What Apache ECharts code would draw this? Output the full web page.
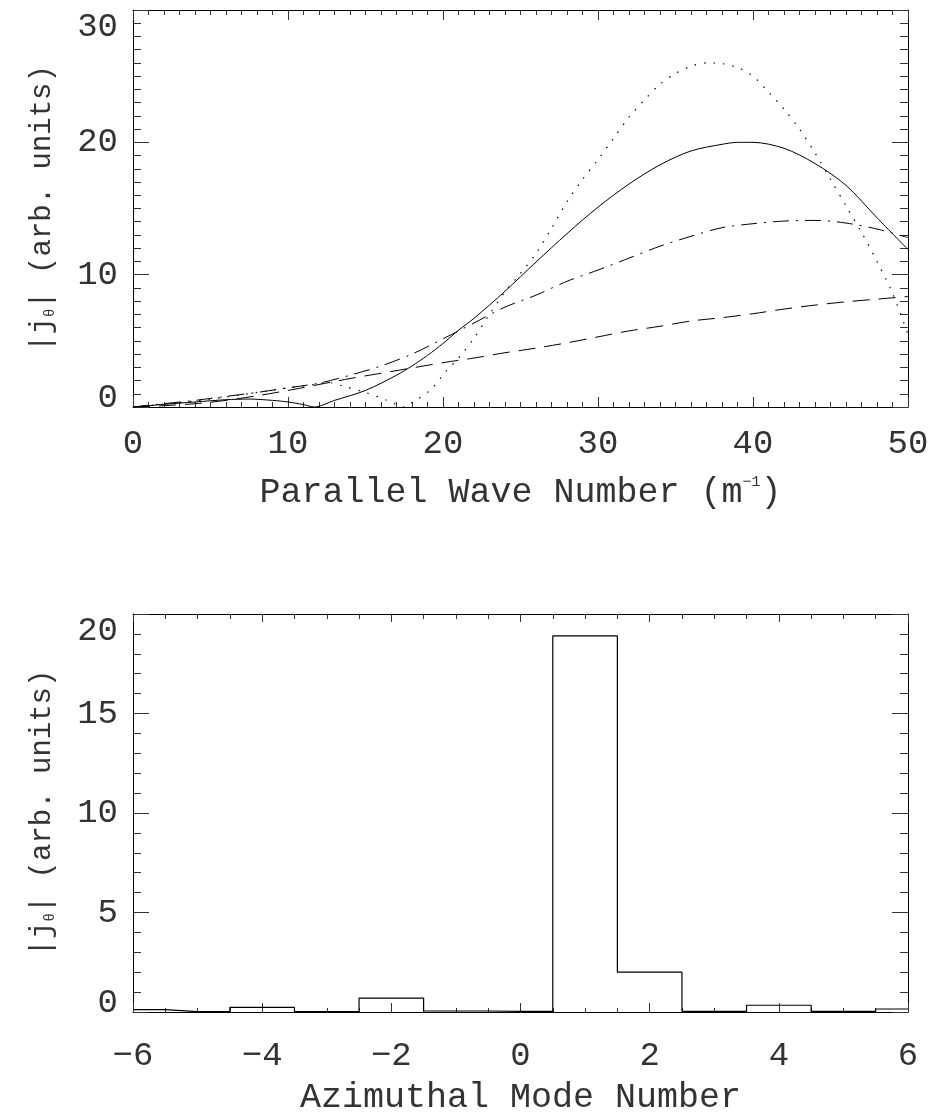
<!DOCTYPE html>
<html><head><meta charset="utf-8">
<script src="https://cdn.jsdelivr.net/npm/echarts@6/dist/echarts.min.js"></script>
<style>html,body{margin:0;padding:0;background:#fff}#c{width:933px;height:1119px}</style>
</head><body><div id="c"></div><script>
// ---- Top panel: |j_theta| vs parallel wave number, four curves ([k, value]) ----
const solidCurve = [[0,0],[2,0.2],[4,0.38],[6,0.55],[7.5,0.6],[9,0.5],[10,0.38],[11,0.18],[11.7,0],[13,0.5],[15,1.25],[17,2.4],[18,3.1],[19,3.9],[20,4.8],[21,5.8],[22,6.7],[24,8.75],[26,10.95],[28,13.1],[30,15.1],[32,16.85],[34,18.3],[36,19.35],[38,19.85],[39,20.0],[40,20.0],[42,19.55],[44,18.4],[46,16.75],[48,14.3],[50,11.9]];
const dottedCurve = [[0,0],[2,0.2],[4,0.45],[6,0.75],[8,1.1],[10,1.45],[12,1.75],[12.6,1.85],[13.5,1.6],[15,1.1],[16.4,0.5],[17.5,0],[18.1,0.4],[19.2,1.3],[20.2,2.7],[21,3.7],[22,5.2],[23,7.0],[24,8.7],[25,10.1],[26,11.6],[27,13.5],[28,15.5],[29,17.2],[30,18.7],[31,20.3],[32,21.9],[33,23.2],[34,24.4],[35,25.2],[36,25.75],[37,26.0],[38,25.95],[39,25.65],[40,25.0],[41,23.8],[42,22.5],[43,21.0],[44,19.2],[45,17.2],[46,15.2],[47,13.2],[48,11.0],[49,8.6],[50,5.5]];
const dashDotCurve = [[0,0],[2,0.25],[4,0.5],[6,0.8],[8,1.1],[10,1.45],[12,1.8],[14,2.4],[16,3.1],[18,4.0],[20,5.15],[22,6.35],[24,7.55],[26,8.45],[28,9.5],[30,10.35],[32,11.25],[34,12.15],[36,12.9],[38,13.55],[40,13.85],[42,14.05],[44,14.1],[46,13.9],[48,13.45],[50,12.8]];
const dashedCurve = [[0,0],[2,0.1],[4,0.25],[6,0.5],[8,0.85],[10,1.25],[12,1.7],[14,2.15],[16,2.55],[18,2.95],[20,3.35],[22,3.7],[24,4.1],[26,4.45],[28,4.85],[30,5.3],[32,5.75],[34,6.1],[36,6.5],[38,6.75],[40,7.05],[42,7.4],[44,7.7],[46,7.95],[48,8.15],[50,8.35]];

// ---- Bottom panel: histogram over azimuthal mode number ----
const modeNumbers = [-6,-5,-4,-3,-2,-1,0,1,2,3,4,5,6];
const modeAmplitude = [0.12,0.02,0.23,0.02,0.7,0.05,0.03,18.9,2.0,0.03,0.34,0.03,0.15];

// ---- Axis texts ----
const topXTitle = ['Parallel Wave Number (m', '\u22121', ')'];
const bottomXTitle = 'Azimuthal Mode Number';
const yTitleParts = ['|j', '\u03b8', '| (arb. units)'];

const FONT = 'Liberation Mono';
const TXT = '#333';
const LINE = '#000';

function mkX(gridIndex, pos, min, max, interval, minorSplit, tickLen, minorLen, withLabels, margin, extra) {
  return Object.assign({
    type: 'value', gridIndex, position: pos, min, max, interval,
    axisLine: { show: true, onZero: false, lineStyle: { color: LINE, width: 1 } },
    axisTick: { show: true, inside: true, length: tickLen, lineStyle: { color: '#333', width: 1 } },
    minorTick: { show: true, splitNumber: minorSplit, length: minorLen, lineStyle: { color: '#333', width: 1 } },
    splitLine: { show: false }, minorSplitLine: { show: false },
    axisLabel: { show: withLabels, margin: margin, fontFamily: FONT, fontSize: 34, color: TXT,
      formatter: v => String(v).replace('-', '\u2212') }
  }, extra || {});
}
function mkY(gridIndex, pos, min, max, interval, minorSplit, withLabels, extra) {
  return Object.assign({
    type: 'value', gridIndex, position: pos, min, max, interval,
    axisLine: { show: true, onZero: false, lineStyle: { color: LINE, width: 1 } },
    axisTick: { show: true, inside: true, length: 16, lineStyle: { color: '#333', width: 1 } },
    minorTick: { show: true, splitNumber: minorSplit, length: 8, lineStyle: { color: '#333', width: 1 } },
    splitLine: { show: false }, minorSplitLine: { show: false },
    axisLabel: { show: withLabels, margin: 15, fontFamily: FONT, fontSize: 34, color: TXT,
      verticalAlignMinLabel: 'bottom', verticalAlignMaxLabel: 'top',
      formatter: v => v === min ? '{lo|' + v + '}' : String(v),
      rich: { lo: { fontFamily: FONT, fontSize: 34, color: TXT, lineHeight: 18 } } }
  }, extra || {});
}

const yName = {
  name: '{n|' + yTitleParts[0] + '}{s|' + yTitleParts[1] + '}{n|' + yTitleParts[2] + '}',
  nameLocation: 'middle', nameRotate: 90, nameGap: 76,
  nameTextStyle: { fontFamily: FONT, color: TXT, rich: {
    n: { fontFamily: FONT, fontSize: 29, color: TXT },
    s: { fontFamily: FONT, fontSize: 14, color: TXT, verticalAlign: 'bottom' }
  } }
};

const option = {
  backgroundColor: '#fff',
  animation: false,
  grid: [
    { left: 133, top: 10, width: 775, height: 397 },
    { left: 133, top: 614, width: 775, height: 398 }
  ],
  xAxis: [
    mkX(0, 'bottom', 0, 50, 10, 10, 10, 5, true, 20, {
      name: '{n|' + topXTitle[0] + '}{s|' + topXTitle[1] + '}{n|' + topXTitle[2] + '}',
      nameLocation: 'middle', nameGap: 68,
      nameTextStyle: { fontFamily: FONT, color: TXT, rich: {
        n: { fontFamily: FONT, fontSize: 35, color: TXT },
        s: { fontFamily: FONT, fontSize: 15, color: TXT, verticalAlign: 'top' }
      } }
    }),
    mkX(0, 'top', 0, 50, 10, 10, 10, 5, false, 20),
    mkX(1, 'bottom', -6, 6, 2, 4, 9, 4, true, 27, {
      name: bottomXTitle, nameLocation: 'middle', nameGap: 68,
      nameTextStyle: { fontFamily: FONT, fontSize: 35, color: TXT }
    }),
    mkX(1, 'top', -6, 6, 2, 4, 8, 5, false, 20)
  ],
  yAxis: [
    mkY(0, 'left', 0, 30, 10, 10, true, yName),
    mkY(0, 'right', 0, 30, 10, 10, false),
    mkY(1, 'left', 0, 20, 5, 5, true, yName),
    mkY(1, 'right', 0, 20, 5, 5, false)
  ],
  series: [
    { type: 'line', xAxisIndex: 0, yAxisIndex: 0, data: solidCurve, showSymbol: false, symbol: 'none', smooth: 0.3,
      lineStyle: { color: LINE, width: 1, type: 'solid' } },
    { type: 'line', xAxisIndex: 0, yAxisIndex: 0, data: dottedCurve, showSymbol: false, symbol: 'none', smooth: 0.3,
      lineStyle: { color: LINE, width: 1.2, type: [1.5, 8] } },
    { type: 'line', xAxisIndex: 0, yAxisIndex: 0, data: dashDotCurve, showSymbol: false, symbol: 'none', smooth: 0.3,
      lineStyle: { color: LINE, width: 1, type: [16, 7, 2, 7] } },
    { type: 'line', xAxisIndex: 0, yAxisIndex: 0, data: dashedCurve, showSymbol: false, symbol: 'none', smooth: 0.3,
      lineStyle: { color: LINE, width: 1, type: [17, 9] } },
    { type: 'line', xAxisIndex: 2, yAxisIndex: 2, step: 'middle', showSymbol: false, symbol: 'none',
      data: modeNumbers.map((m, i) => [m, modeAmplitude[i]]),
      lineStyle: { color: LINE, width: 1.2 } }
  ]
};
echarts.init(document.getElementById('c'), null, { renderer: 'canvas' }).setOption(option);
</script></body></html>
